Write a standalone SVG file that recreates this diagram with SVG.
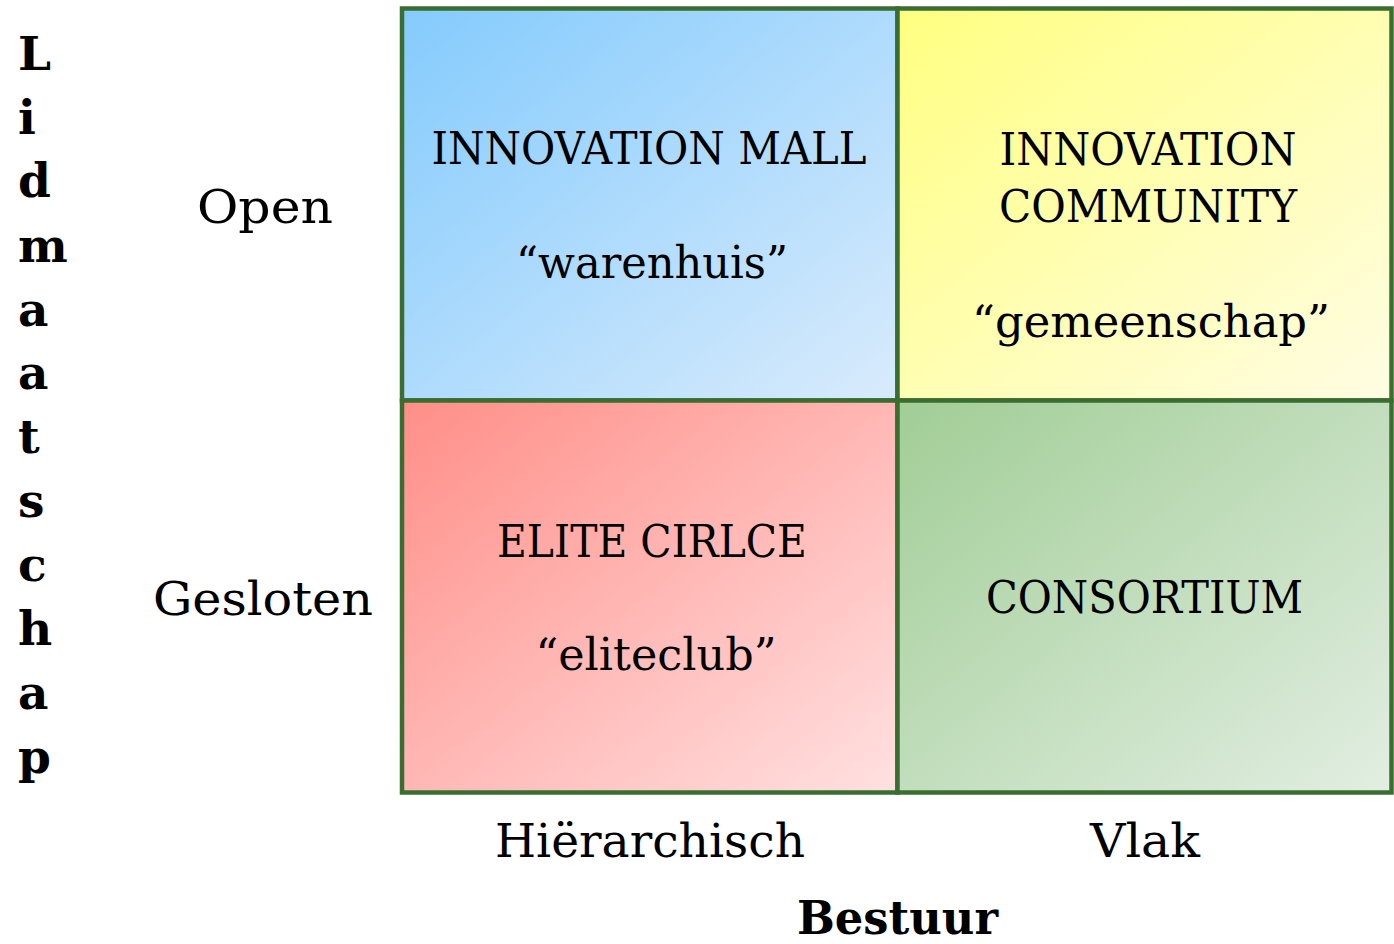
<svg xmlns="http://www.w3.org/2000/svg" width="1394" height="944" viewBox="0 0 1394 944">
<style>
.t{font-family:"DejaVu Serif","Liberation Serif",serif;fill:#000;}
.c{text-anchor:middle;font-size:44px;}
.ax{font-size:46px;}
.v{font-family:"DejaVu Serif","Liberation Serif",serif;font-weight:bold;font-size:47px;fill:#000;}
.cell{stroke:#3a6e31;stroke-width:4.5;}
</style>
<defs>
<linearGradient id="gBlue" x1="0" y1="0" x2="1" y2="1"><stop offset="0" stop-color="#84cbfd"/><stop offset="1" stop-color="#d9ebfc"/></linearGradient>
<linearGradient id="gYellow" x1="0" y1="0" x2="1" y2="1"><stop offset="0" stop-color="#ffff80"/><stop offset="1" stop-color="#fffde3"/></linearGradient>
<linearGradient id="gRed" x1="0" y1="0" x2="1" y2="1"><stop offset="0" stop-color="#ff8e88"/><stop offset="1" stop-color="#ffe1e1"/></linearGradient>
<linearGradient id="gGreen" x1="0" y1="0" x2="1" y2="1"><stop offset="0" stop-color="#a1cd96"/><stop offset="1" stop-color="#e2eee2"/></linearGradient>
</defs>
<rect width="1394" height="944" fill="#fff"/>
<g id="yaxis">
<text class="v" x="18" y="70">L</text>
<text class="v" x="18" y="134">i</text>
<text class="v" x="18" y="197">d</text>
<text class="v" x="18" y="262">m</text>
<text class="v" x="18" y="326">a</text>
<text class="v" x="18" y="389">a</text>
<text class="v" x="18" y="453">t</text>
<text class="v" x="18" y="517">s</text>
<text class="v" x="18" y="581">c</text>
<text class="v" x="18" y="645">h</text>
<text class="v" x="18" y="709">a</text>
<text class="v" x="18" y="773">p</text>
</g>
<g id="row-labels">
<text class="t ax" x="197" y="223" textLength="136" lengthAdjust="spacingAndGlyphs">Open</text>
<text class="t ax" x="153" y="615" textLength="220" lengthAdjust="spacingAndGlyphs">Gesloten</text>
</g>
<g id="cell-mall">
<rect class="cell" x="402" y="8.5" width="495.5" height="392" fill="url(#gBlue)"/>
<text class="t c" x="649" y="164" textLength="435" lengthAdjust="spacingAndGlyphs">INNOVATION MALL</text>
<text class="t c" x="652" y="278" textLength="272" lengthAdjust="spacingAndGlyphs">“warenhuis”</text>
</g>
<g id="cell-community">
<rect class="cell" x="897.5" y="8.5" width="494" height="392" fill="url(#gYellow)"/>
<text class="t c" x="1148" y="165" textLength="297" lengthAdjust="spacingAndGlyphs">INNOVATION</text>
<text class="t c" x="1148" y="222" textLength="298" lengthAdjust="spacingAndGlyphs">COMMUNITY</text>
<text class="t c" x="1151" y="337" textLength="358" lengthAdjust="spacingAndGlyphs">“gemeenschap”</text>
</g>
<g id="cell-elite">
<rect class="cell" x="402" y="400.5" width="495.5" height="392" fill="url(#gRed)"/>
<text class="t c" x="652" y="557" textLength="310" lengthAdjust="spacingAndGlyphs">ELITE CIRLCE</text>
<text class="t c" x="656" y="670" textLength="241" lengthAdjust="spacingAndGlyphs">“eliteclub”</text>
</g>
<g id="cell-consortium">
<rect class="cell" x="897.5" y="400.5" width="494" height="392" fill="url(#gGreen)"/>
<text class="t c" x="1144.5" y="613" textLength="317" lengthAdjust="spacingAndGlyphs">CONSORTIUM</text>
</g>
<g id="col-labels">
<text class="t ax" x="495" y="857" textLength="310" lengthAdjust="spacingAndGlyphs">Hiërarchisch</text>
<text class="t ax" x="1090" y="857" textLength="110" lengthAdjust="spacingAndGlyphs">Vlak</text>
<text class="v" x="797" y="934" font-size="44" textLength="201" lengthAdjust="spacingAndGlyphs">Bestuur</text>
</g>
<g id="connectors"></g>
</svg>
